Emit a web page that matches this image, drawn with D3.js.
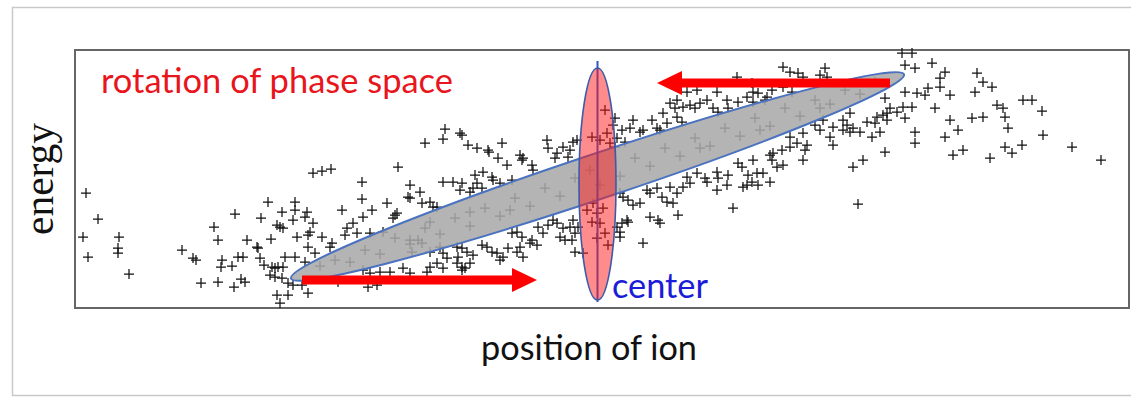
<!DOCTYPE html>
<html>
<head>
<meta charset="utf-8">
<script src="https://cdn.jsdelivr.net/npm/d3@7"></script>
<style>
  html, body { margin: 0; padding: 0; background: #fff; }
  svg { display: block; }
</style>
</head>
<body>
<svg id="chart" width="1131" height="397"></svg>
<script>
// Ion bunch in phase space: position (horizontal) vs energy (vertical), arbitrary units.
const position = [
  11,23,8,13,44,43,43,54,107,118,121,126,143,139,143,160,147,146,157,163,168,159,166,170,172,182,183,186,193,196,
  185,189,197,200,203,208,195,200,207,202,205,208,207,220,220,218,232,230,238,238,247,256,222,233,235,247,257,210,220,230,
  233,240,202,205,213,227,233,267,213,218,287,287,297,288,278,272,282,270,255,312,320,318,322,295,308,323,335,345,333,335,
  347,355,358,362,350,370,368,385,387,393,402,413,414,427,423,432,445,447,448,457,458,472,473,482,480,488,495,498,502,368,
  378,387,385,395,398,400,408,417,418,425,437,407,402,335,343,337,347,355,365,368,372,382,387,383,392,398,395,387,390,407,
  412,417,422,428,425,433,442,445,448,455,437,442,447,457,462,468,473,478,482,488,485,490,495,500,500,463,288,295,305,315,
  328,335,352,355,362,293,302,263,368,382,387,493,530,517,525,532,535,518,512,522,528,517,525,530,522,533,498,503,497,508,
  542,545,553,568,540,538,547,555,558,565,568,577,582,585,592,602,607,542,550,540,588,595,602,600,608,615,620,625,632,638,
  643,652,653,663,672,678,678,683,692,697,708,612,622,642,662,677,708,715,723,728,750,752,745,717,545,548,553,558,565,572,
  575,582,587,595,592,598,602,608,612,615,622,630,632,642,643,642,652,653,663,668,672,677,673,682,683,695,678,667,697,547,
  552,545,575,585,583,603,658,698,707,715,722,732,730,728,708,702,715,728,745,755,758,768,772,778,783,748,758,768,778,827,
  837,830,840,857,870,865,865,902,908,917,830,842,850,853,875,900,810,815,822,828,837,830,812,808,860,875,883,870,840,840,
  897,908,922,928,930,933,948,957,967,968,930,937,947,878,888,915,997,1026,810,788,775,785,797,805,792,800,690,695,740,775,
  802,812,688
];
const energy = [
  115,89,71,51,71,60,55,34,58,50,48,25,26,81,68,94,48,41,42,51,51,21,29,26,68,61,60,90,106,69,
  50,43,41,40,41,41,33,31,30,83,81,80,96,106,98,88,96,91,85,135,137,139,71,73,76,71,65,51,51,46,
  61,55,13,5,13,23,15,98,25,23,126,109,98,91,85,80,75,73,61,105,93,90,95,75,76,141,123,116,111,110,
  105,106,101,101,165,179,169,175,173,163,160,158,156,165,150,143,153,148,150,143,138,168,160,155,150,161,158,166,168,126,
  126,125,118,116,120,133,136,131,128,125,128,120,125,68,68,56,65,56,61,55,50,61,60,51,56,53,45,41,40,63,
  61,56,55,51,48,60,56,61,51,65,75,76,71,68,63,75,83,88,85,80,71,68,81,56,75,81,38,35,36,36,
  40,35,36,41,45,21,23,26,40,45,38,151,198,171,168,175,165,105,98,95,100,86,85,75,70,63,88,81,68,55,
  81,76,86,65,190,183,178,180,188,176,178,188,180,178,185,191,186,170,166,161,195,205,208,200,201,203,200,205,208,200,
  196,208,200,206,211,216,206,215,211,218,221,216,218,216,231,225,241,236,235,231,240,231,233,216,115,111,108,103,105,118,
  115,120,111,121,106,105,115,121,131,125,135,130,126,136,130,118,123,133,145,121,123,126,133,135,123,126,148,141,148,85,
  88,71,91,85,88,93,100,155,158,161,165,163,158,148,143,141,171,175,178,171,163,188,183,141,104,188,181,178,180,255,
  255,243,240,245,236,230,221,235,226,221,216,215,213,220,213,216,210,200,196,201,201,190,188,193,200,188,178,171,176,165,
  190,191,203,200,191,180,208,208,197,173,161,155,163,153,158,150,161,148,156,148,176,176,171,176,186,185,208,153,183,195,
  191,195,135
];
// Particles lying along the core of the rotated distribution (shown beneath the shaded band).
const corePosition = [
  245,260,275,290,305,320,335,350,365,380,395,410,425,440,455,470,485,500,545,560,575,590,605,620,635,650,665,680,695,710,
  725,740,755,770,785,800,355,395,435,515,525,625,685,745
];
const coreEnergy = [
  42,48,46,58,54,70,64,80,74,90,82,100,92,110,102,120,112,130,132,150,142,160,152,170,162,180,172,190,182,200,
  192,208,204,218,214,226,86,96,98,138,123,160,178,200
];

// Phase-space ellipses: the tilted bunch (end points + half width) and the upright rotated bunch.
const bunchEnds = [[216, 29.5], [829, 233.7]];
const bunchHalfWidth = 22.5;
const rotatedCenter = [522.5, 124];
const rotatedRadii = [18.5, 116];
const centerLine = [[522.5, 6], [522.5, 247]];
// Rotation arrows: [from, to] in position/energy units.
const arrows = [
  [[227, 28], [462, 28]],
  [[815, 225], [582, 225]]
];
const labels = {
  title: "rotation of phase space",
  center: "center",
  xTitle: "position of ion",
  yTitle: "energy"
};

const svg = d3.select("#chart");
const plot = { left: 75, right: 1129, top: 50, bottom: 308 };

const x = d3.scaleLinear().domain([0, 1054]).range([plot.left, plot.right]);
const y = d3.scaleLinear().domain([0, 258]).range([plot.bottom, plot.top]);

// Outer page frame
svg.append("rect")
  .attr("x", 12.5).attr("y", 7.5).attr("width", 1130).attr("height", 388)
  .attr("fill", "none").attr("stroke", "#c9c9c9").attr("stroke-width", 1.5);

// Plot box
svg.append("rect")
  .attr("x", plot.left).attr("y", plot.top)
  .attr("width", plot.right - plot.left).attr("height", plot.bottom - plot.top)
  .attr("fill", "#fff").attr("stroke", "#666").attr("stroke-width", 2);

const cross = "M-5,0H5M0,-5V5";
function drawCrosses(xs, ys, color) {
  svg.append("g").selectAll("path")
    .data(xs.map((v, i) => [v, ys[i]]))
    .join("path")
    .attr("d", cross)
    .attr("transform", d => `translate(${x(d[0])},${y(d[1])})`)
    .attr("fill", "none")
    .attr("stroke", color)
    .attr("stroke-width", 1.25);
}
drawCrosses(corePosition, coreEnergy, "#222");
drawCrosses(position, energy, "#111");

// Tilted bunch ellipse
{
  const [a, b] = bunchEnds;
  const x1 = x(a[0]), y1 = y(a[1]), x2 = x(b[0]), y2 = y(b[1]);
  const cx = (x1 + x2) / 2, cy = (y1 + y2) / 2;
  const rx = Math.hypot(x2 - x1, y2 - y1) / 2;
  const ang = Math.atan2(y2 - y1, x2 - x1) * 180 / Math.PI;
  const ry = Math.abs(y(0) - y(bunchHalfWidth));
  svg.append("ellipse")
    .attr("cx", 0).attr("cy", 0).attr("rx", rx).attr("ry", ry)
    .attr("transform", `translate(${cx},${cy}) rotate(${ang})`)
    .attr("fill", "#a8a8a8").attr("fill-opacity", 0.86)
    .attr("stroke", "#4a72c0").attr("stroke-width", 2);
}

// Central vertical line and upright ellipse
svg.append("line")
  .attr("x1", x(centerLine[0][0])).attr("y1", y(centerLine[0][1]))
  .attr("x2", x(centerLine[1][0])).attr("y2", y(centerLine[1][1]))
  .attr("stroke", "#3550c0").attr("stroke-width", 2);

svg.append("ellipse")
  .attr("cx", x(rotatedCenter[0])).attr("cy", y(rotatedCenter[1]))
  .attr("rx", x(rotatedRadii[0]) - x(0))
  .attr("ry", y(0) - y(rotatedRadii[1]))
  .attr("fill", "#ff1a1a").attr("fill-opacity", 0.5)
  .attr("stroke", "#3d5aa8").attr("stroke-width", 1.6);

// Rotation arrows
const shaft = 9, headLen = 25, headHalf = 12;
arrows.forEach(([from, to]) => {
  const x0 = x(from[0]), x1 = x(to[0]), yy = y(from[1]);
  const dir = Math.sign(x1 - x0);
  const xb = x1 - dir * headLen;
  const p = d3.path();
  p.moveTo(x0, yy - shaft / 2);
  p.lineTo(xb, yy - shaft / 2);
  p.lineTo(xb, yy - headHalf);
  p.lineTo(x1, yy);
  p.lineTo(xb, yy + headHalf);
  p.lineTo(xb, yy + shaft / 2);
  p.lineTo(x0, yy + shaft / 2);
  p.closePath();
  svg.append("path").attr("d", p.toString()).attr("fill", "#ff0000");
});

// Text, sized to fit its intended width
const sans = "Lato, 'Open Sans', 'Noto Sans', sans-serif";
function fitText(sel, width) {
  const w = sel.node().getComputedTextLength();
  const fs = parseFloat(sel.attr("font-size"));
  sel.attr("font-size", fs * width / w);
  return sel;
}

fitText(svg.append("text")
  .attr("x", 101).attr("y", 93)
  .attr("font-family", sans).attr("font-size", 36)
  .attr("fill", "#e8161c").text(labels.title), 352);

fitText(svg.append("text")
  .attr("x", 612).attr("y", 298)
  .attr("font-family", sans).attr("font-size", 36)
  .attr("fill", "#1c1cd8").text(labels.center), 96);

fitText(svg.append("text")
  .attr("x", 589).attr("y", 360)
  .attr("text-anchor", "middle")
  .attr("font-family", sans).attr("font-size", 36)
  .attr("fill", "#111").text(labels.xTitle), 216);

fitText(svg.append("text")
  .attr("transform", "translate(53,179) rotate(-90)")
  .attr("text-anchor", "middle")
  .attr("font-family", "'Liberation Serif', 'DejaVu Serif', serif").attr("font-size", 40)
  .attr("fill", "#111").text(labels.yTitle), 112);
</script>
</body>
</html>
